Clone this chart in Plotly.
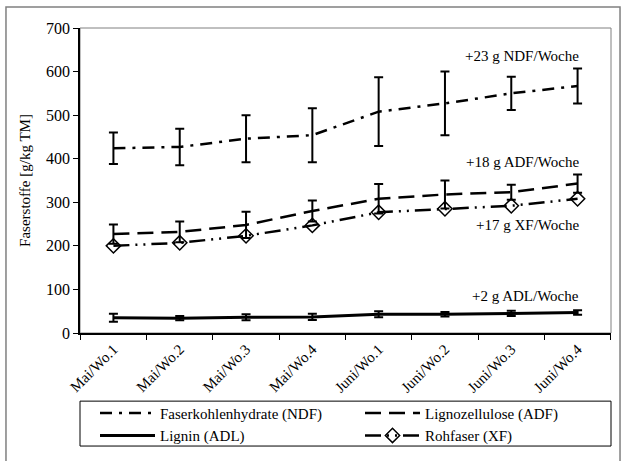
import plotly.graph_objects as go

categories = ["Mai/Wo.1", "Mai/Wo.2", "Mai/Wo.3", "Mai/Wo.4",
              "Juni/Wo.1", "Juni/Wo.2", "Juni/Wo.3", "Juni/Wo.4"]
ndf = [424, 427, 446, 454, 508, 527, 550, 567]
ndf_err = [36, 42, 54, 62, 79, 73, 38, 40]
adf = [227, 232, 248, 280, 308, 318, 323, 343]
adf_err = [22, 24, 30, 24, 34, 32, 17, 21]
adl = [35, 34, 36, 37, 43, 43, 45, 47]
adl_err = [9, 5, 7, 7, 7, 5, 6, 5]
xf = [200, 207, 223, 247, 277, 285, 292, 308]

yticks = [0, 100, 200, 300, 400, 500, 600, 700]
annotations_text = ["+23 g NDF/Woche", "+18 g ADF/Woche", "+17 g XF/Woche", "+2 g ADL/Woche"]
annotations_y = [636, 393, 248, 84]

FONT = "Liberation Serif, Times New Roman, serif"
fig = go.Figure()

def err(vals):
    return dict(type="data", array=vals, visible=True, color="black", thickness=2, width=4.5)

fig.add_trace(go.Scatter(x=categories, y=ndf, name="Faserkohlenhydrate (NDF)", mode="lines",
                         line=dict(color="black", width=2.5, dash="12px,7px,3px,7px"),
                         error_y=err(ndf_err)))
fig.add_trace(go.Scatter(x=categories, y=adf, name="Lignozellulose (ADF)", mode="lines",
                         line=dict(color="black", width=2.5, dash="16px,8px"),
                         error_y=err(adf_err)))
fig.add_trace(go.Scatter(x=categories, y=adl, name="Lignin (ADL)", mode="lines",
                         line=dict(color="black", width=3),
                         error_y=err(adl_err)))
fig.add_trace(go.Scatter(x=categories, y=xf, name="Rohfaser (XF)", mode="lines+markers",
                         line=dict(color="black", width=2.5, dash="16px,6px,2px,6px,2px,6px"),
                         marker=dict(symbol="diamond-open", size=11, color="black",
                                     line=dict(width=1.5, color="black"))))

for t, yv in zip(annotations_text, annotations_y):
    fig.add_annotation(x=1.0, xref="paper", xanchor="right", xshift=-30, y=yv, yref="y",
                       text=t, showarrow=False, font=dict(family=FONT, size=15, color="black"))

# plot border (gray top/right), legend box and outer frame
fig.add_shape(type="rect", xref="paper", yref="paper", x0=0, x1=1, y0=0, y1=1,
              line=dict(color="#808080", width=1), layer="below")
fig.add_shape(type="rect", xref="paper", yref="paper", x0=0, x1=1, y0=-0.3706, y1=-0.2234,
              line=dict(color="black", width=1), layer="below")
fig.add_shape(type="rect", xref="paper", yref="paper", x0=-0.1394, x1=1.017, y0=-0.6, y1=1.069,
              line=dict(color="#808080", width=1.5), layer="below")

fig.update_layout(
    width=621, height=461,
    margin=dict(l=80, r=10, t=28, b=127),
    paper_bgcolor="white", plot_bgcolor="white",
    font=dict(family=FONT, size=15, color="black"),
    showlegend=True,
    legend=dict(orientation="h", x=0, xanchor="left", y=-0.205, yanchor="top",
                bgcolor="rgba(0,0,0,0)", borderwidth=0, entrywidth=180, itemwidth=55,
                indentation=15,
                font=dict(family=FONT, size=15, color="black"), traceorder="normal",
                tracegroupgap=0),
    xaxis=dict(type="category", tickangle=-45, showline=True, linecolor="black", linewidth=1.5,
               ticks="outside", ticklen=5, tickcolor="black", tickson="boundaries",
               showgrid=False, tickfont=dict(family=FONT, size=15), automargin=False),
    yaxis=dict(range=[0, 700], tickvals=yticks, showline=True, linecolor="black", linewidth=1.5,
               ticks="outside", ticklen=5, tickcolor="black", showgrid=False, zeroline=False,
               automargin=False,
               title=dict(text="Faserstoffe [g/kg TM]", font=dict(family=FONT, size=15), standoff=12),
               tickfont=dict(family=FONT, size=16)),
)

fig.write_html("out.html")
